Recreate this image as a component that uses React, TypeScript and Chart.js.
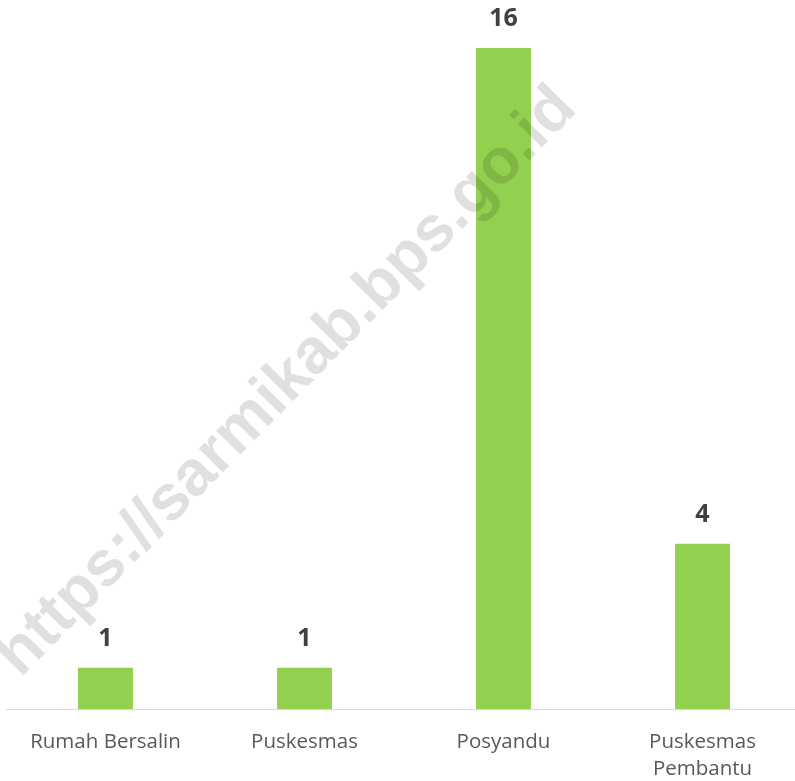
import React, { useEffect, useRef } from "react";
import { Chart, registerables } from "chart.js";

Chart.register(...registerables);

const categories: (string | string[])[] = [
  "Rumah Bersalin",
  "Puskesmas",
  "Posyandu",
  ["Puskesmas", "Pembantu"],
];
const values: number[] = [1, 1, 16, 4];
const watermark = "https://sarmikab.bps.go.id";

const labelPlugin = {
  id: "valueLabels",
  afterDatasetsDraw(chart: any) {
    const ctx = chart.ctx;
    const meta = chart.getDatasetMeta(0);
    ctx.save();
    ctx.font = "bold 25px 'Open Sans'";
    ctx.fillStyle = "#404040";
    ctx.textAlign = "center";
    ctx.textBaseline = "middle";
    meta.data.forEach((bar: any, i: number) => {
      ctx.fillText(String(values[i]), bar.x, bar.y - 29);
    });
    ctx.restore();
  },
};

const watermarkPlugin = {
  id: "watermark",
  afterDraw(chart: any) {
    const ctx = chart.ctx;
    ctx.save();
    ctx.translate(287, 382);
    ctx.rotate((-45.5 * Math.PI) / 180);
    ctx.font = "bold 64px 'Liberation Sans'";
    ctx.fillStyle = "rgba(0,0,0,0.12)";
    ctx.textAlign = "center";
    ctx.textBaseline = "middle";
    ctx.fillText(watermark, 0, 0);
    ctx.restore();
  },
};

export default function App() {
  const ref = useRef<HTMLCanvasElement | null>(null);
  useEffect(() => {
    document.body.style.margin = "0";
    const chart = new Chart(ref.current as HTMLCanvasElement, {
      type: "bar",
      data: {
        labels: categories as any,
        datasets: [
          {
            data: values,
            backgroundColor: "#92D050",
            barPercentage: 0.276,
            categoryPercentage: 1,
          },
        ],
      },
      options: {
        animation: false,
        responsive: false,
        maintainAspectRatio: false,
        layout: { padding: { top: 48, left: 6, right: 0, bottom: 0 } },
        plugins: { legend: { display: false }, tooltip: { enabled: false } },
        scales: {
          x: {
            grid: { display: false, drawTicks: false },
            border: { display: true, color: "#d9d9d9", width: 1 },
            ticks: {
              color: "#595959",
              font: { family: "'Open Sans'", size: 20.5, lineHeight: 1.32 },
              padding: 20,
              maxRotation: 0,
              autoSkip: false,
            },
            afterFit(scale: any) {
              scale.height = 72;
            },
          },
          y: {
            display: false,
            min: 0,
            max: 16,
          },
        },
      },
      plugins: [labelPlugin, watermarkPlugin],
    });
    return () => chart.destroy();
  }, []);
  return (
    <div style={{ position: "fixed", left: 0, top: 0, width: 795, height: 781, overflow: "hidden", background: "#fff" }}>
      <canvas ref={ref} width={802} height={781} style={{ width: 802, height: 781, display: "block" }} />
    </div>
  );
}
